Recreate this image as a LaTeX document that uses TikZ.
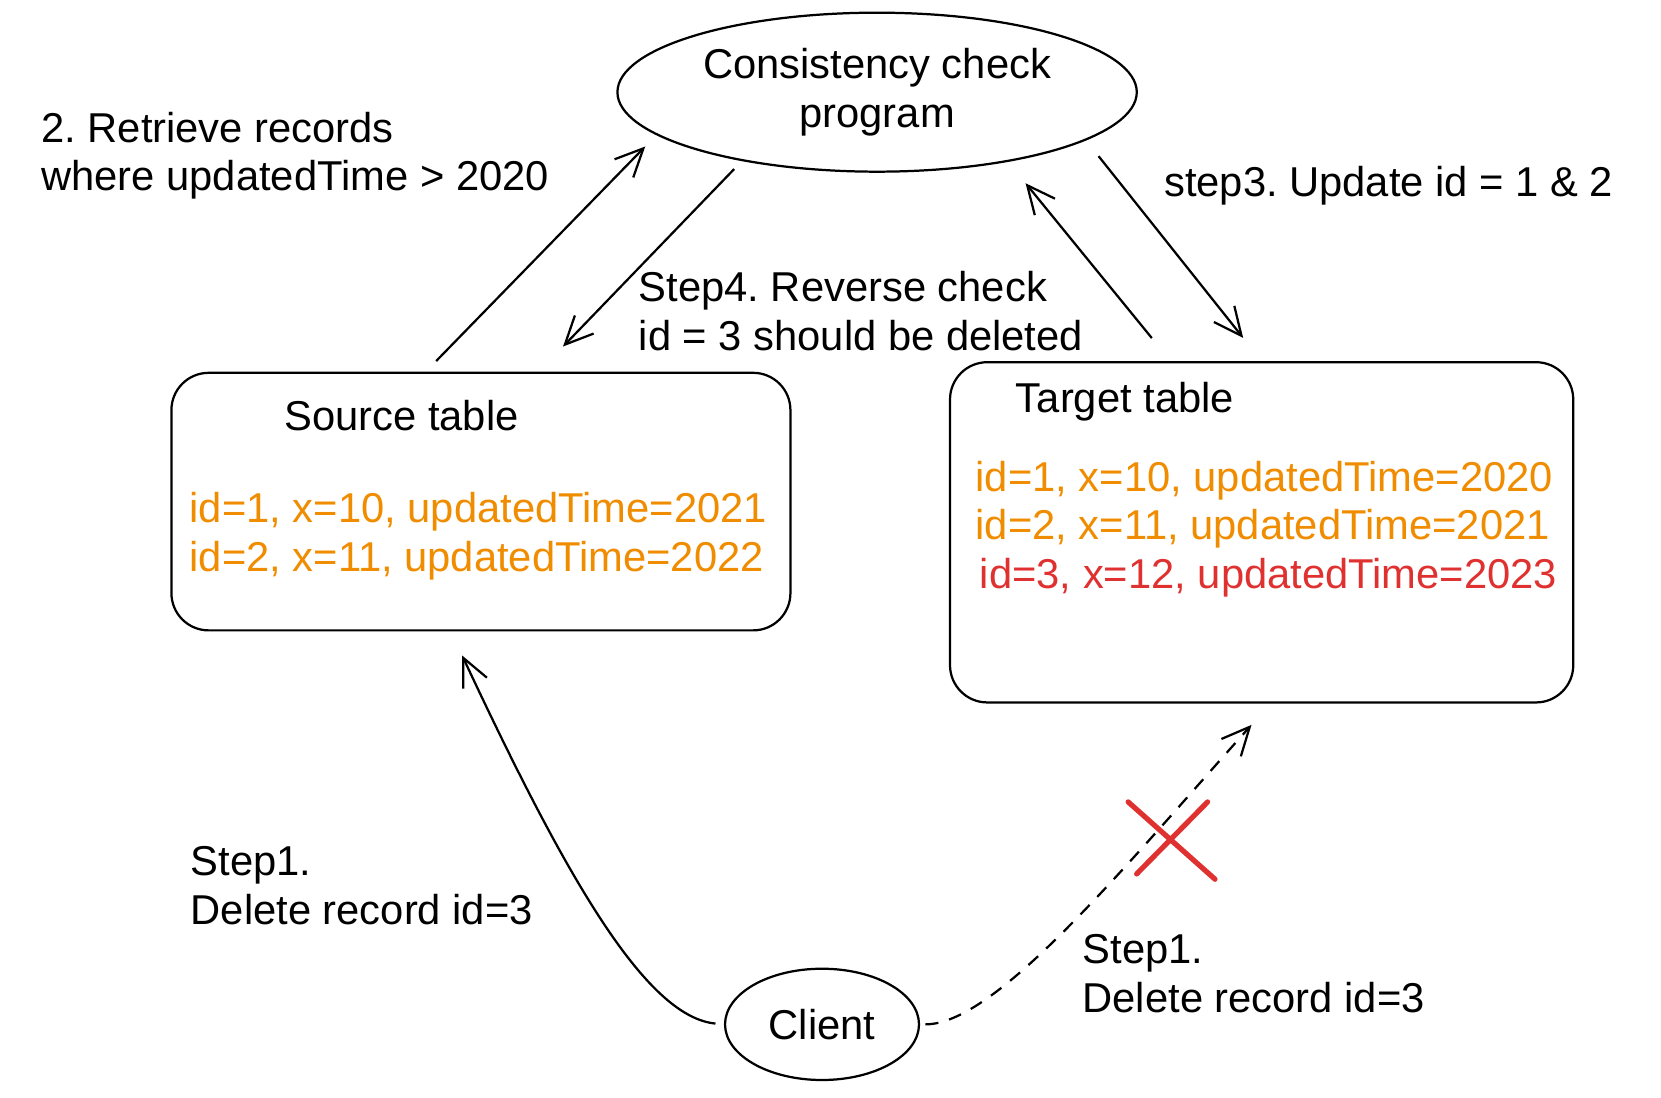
\documentclass[tikz,border=0pt]{standalone}
\usepackage{fontspec}
\setmainfont{Liberation Sans}
\usetikzlibrary{arrows.meta, positioning, shapes.geometric}
\definecolor{rowOrange}{HTML}{F08C00}
\definecolor{rowRed}{HTML}{E03131}
\frenchspacing

\begin{document}
\begin{tikzpicture}[x=0.01cm, y=-0.01cm, line width=0.6pt,
    >={Straight Barb[length=7.5pt, width=7pt]},
    txt/.style={font=\fontsize{11.2}{13.1}\selectfont, inner sep=0pt, align=left},
    proc/.style={draw, ellipse, txt, align=center},
    tbl/.style={draw, rounded corners=10pt}]
    \useasboundingbox (0,0) rectangle (1568,1035.6);

    \node[proc, minimum width=4.9cm, minimum height=1.5cm] (prog) at (828,87) {Consistency check\\program};
    \node[tbl, minimum width=5.84cm, minimum height=2.43cm] (src) at (454,473.5) {};
    \node[tbl, minimum width=5.88cm, minimum height=3.21cm] (tgt) at (1191,502.5) {};
    \node[proc, minimum width=1.83cm, minimum height=1.05cm] (client) at (776,967) {Client};

    \node[txt] (srcTitle) at (379,392) {Source table};
    \node[txt, anchor=west, text=rowOrange] (srcRows) at (178,506.5) {id=1, x=10, updatedTime=2021\\id=2, x=11, updatedTime=2022};
    \node[txt] (tgtTitle) at (1062,379) {Target table};
    \node[txt, anchor=west, text=rowOrange] (tgtRow1) at (920,454) {id=1, x=10, updatedTime=2020};
    \node[txt, anchor=west, text=rowOrange] (tgtRow2) at (920,499) {id=2, x=11, updatedTime=2021};
    \node[txt, anchor=west, text=rowRed] (tgtRow3) at (924,545) {id=3, x=12, updatedTime=2023};

    \node[txt, anchor=west] (lblRetrieve) at (38,147) {2. Retrieve records\\where updatedTime > 2020};
    \node[txt, anchor=west] (lblStep3) at (1098,175) {step3. Update id = 1 \& 2};
    \node[txt, anchor=west] (lblStep4) at (602,294) {Step4. Reverse check\\id = 3 should be deleted};
    \node[txt, anchor=west] (lblStep1a) at (179,836) {Step1.\\Delete record id=3};
    \node[txt, anchor=west] (lblStep1b) at (1021,919) {Step1.\\Delete record id=3};

    \draw[->, shorten <=0.14cm, shorten >=0.15cm] (src.113.2) -- (prog.191.7);
    \draw[->, shorten <=0.105cm, shorten >=0.33cm] (prog.207.4) -- (src.66.6);
    \draw[->, shorten <=0.19cm, shorten >=0.28cm] (prog.347) -- (tgt.90.6);
    \draw[->, shorten <=0.28cm, shorten >=0.26cm] (tgt.118.1) -- (prog.332.9);
    \draw[->, shorten <=0.08cm, shorten >=0.25cm] (client.west) .. controls (610,960) and (535,830) .. (src.257);
    \draw[->, dash pattern=on 3.5pt off 3pt, shorten <=0.05cm, shorten >=0.27cm] (client.east) .. controls (940,967) and (1060,820) .. (tgt.273.3);

    \draw[rowRed, line width=1.4pt, line cap=round] (1065,757) -- (1147,830) (1073,825) -- (1140,757);
  \end{tikzpicture}
\end{document}
